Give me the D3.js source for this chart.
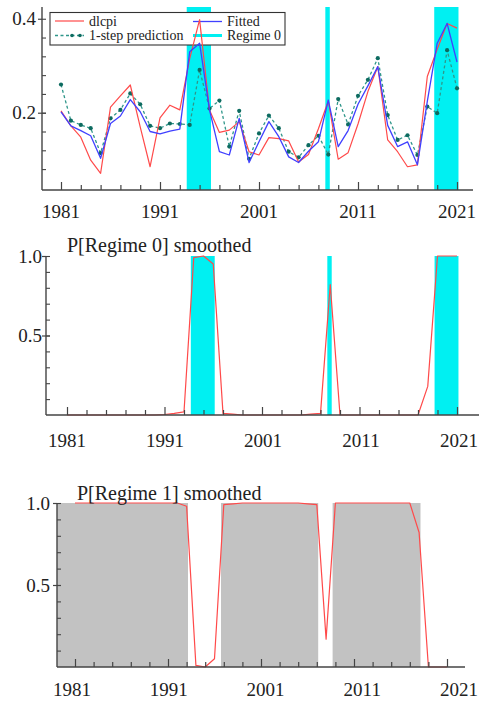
<!DOCTYPE html>
<html>
<head>
<meta charset="utf-8">
<script src="https://cdn.jsdelivr.net/npm/d3@7/dist/d3.min.js"></script>
<style>
  body { margin: 0; background: #fff; }
  svg text { font-family: 'Liberation Serif', 'DejaVu Serif', serif; fill: #222; }
</style>
</head>
<body>
<svg id="chart" width="479" height="702" font-family="'Liberation Serif', 'DejaVu Serif', serif"></svg>
<script>
'use strict'

// annual observations
const years = [1981, 1982, 1983, 1984, 1985, 1986, 1987, 1988, 1989, 1990,
  1991, 1992, 1993, 1994, 1995, 1996, 1997, 1998, 1999, 2000,
  2001, 2002, 2003, 2004, 2005, 2006, 2007, 2008, 2009, 2010,
  2011, 2012, 2013, 2014, 2015, 2016, 2017, 2018, 2019, 2020, 2021]

const dlcpi = [0.204, 0.172, 0.148, 0.099, 0.071, 0.212, 0.236, 0.259, 0.170, 0.085,
  0.189, 0.216, 0.206, 0.315, 0.398, 0.206, 0.158, 0.163, 0.181, 0.117,
  0.110, 0.147, 0.145, 0.140, 0.095, 0.111, 0.166, 0.225, 0.101, 0.115,
  0.176, 0.245, 0.298, 0.142, 0.117, 0.085, 0.089, 0.277, 0.335, 0.390, 0.380]

const fitted = [0.202, 0.172, 0.162, 0.151, 0.103, 0.177, 0.193, 0.228, 0.202, 0.160,
  0.155, 0.161, 0.165, 0.330, 0.348, 0.206, 0.117, 0.110, 0.188, 0.094,
  0.138, 0.181, 0.149, 0.106, 0.094, 0.118, 0.138, 0.227, 0.128, 0.162,
  0.218, 0.257, 0.298, 0.173, 0.128, 0.138, 0.089, 0.224, 0.348, 0.390, 0.308]

const prediction = [0.260, 0.183, 0.174, 0.167, 0.114, 0.188, 0.206, 0.241, 0.218, 0.172,
  0.167, 0.177, 0.176, 0.174, 0.291, 0.209, 0.226, 0.128, 0.204, 0.102,
  0.156, 0.194, 0.167, 0.117, 0.105, 0.131, 0.151, 0.111, 0.229, 0.175,
  0.236, 0.270, 0.316, 0.195, 0.142, 0.152, 0.110, 0.213, 0.199, 0.333, 0.252]

const pRegime0 = [0, 0, 0, 0, 0, 0, 0, 0, 0, 0,
  0.003, 0.01, 0.02, 0.99, 1.0, 0.95, 0.01, 0.005, 0, 0,
  0, 0, 0, 0, 0, 0.005, 0.01, 0.82, 0, 0,
  0, 0, 0, 0, 0, 0, 0, 0.18, 1.0, 1.0, 1.0]

const pRegime1 = [1, 1, 1, 1, 1, 1, 1, 1, 1, 1,
  1, 1, 0.98, 0.01, 0, 0.05, 0.99, 0.995, 1, 1,
  1, 1, 1, 1, 1, 0.995, 0.99, 0.17, 1, 1,
  1, 1, 1, 1, 1, 1, 1, 0.82, 0, 0, 0]

// [first, last] observation of each regime spell
const regime0Spells = [[1994, 1996], [2008, 2008], [2019, 2021]]
const regime1Spells = [[1981, 1993], [1997, 2007], [2009, 2018]]

const yearLabels = [1981, 1991, 2001, 2011, 2021]
const topTicks = [0.2, 0.4]
const probTicks = [0.5, 1.0]

const cyan = '#00f0f2'
const gray = '#c2c2c2'
const red = '#ff4a4a'
const blue = '#4040ff'
const teal = '#2f968a'
const axisColor = '#444'
const serif = "'Liberation Serif', 'DejaVu Serif', serif"

const svg = d3.select('#chart')

function panel (cfg) {
  let p = {}
  p.x = d3.scaleLinear().domain([1981, 2021]).range([cfg.x0, cfg.x1])
  p.labelX = d3.scaleLinear().domain([1981, 2021]).range(cfg.labelRange || [cfg.x0, cfg.x1])
  p.y = d3.scaleLinear().domain(cfg.yDomain).range([cfg.bottom, cfg.top])
  p.cfg = cfg
  p.g = svg.append('g')
  p.bands = p.g.append('g')
  p.marks = p.g.append('g')
  p.axes = p.g.append('g')
  return p
}

function shade (p, spells, color) {
  let leftYear = p.x.invert(p.cfg.left)
  let start = function (d) { return d[0] === years[0] ? leftYear : d[0] - 0.3 }
  p.bands.selectAll('rect')
    .data(spells)
    .join('rect')
    .attr('x', function (d) { return p.x(start(d)) })
    .attr('width', function (d) { return p.x(d[1] + 0.15) - p.x(start(d)) })
    .attr('y', p.cfg.top)
    .attr('height', p.cfg.bottom - p.cfg.top)
    .attr('fill', color)
}

function drawLine (p, values, color, width, dash) {
  let line = d3.line()
    .x(function (d, i) { return p.x(years[i]) })
    .y(function (d) { return p.y(d) })
  p.marks.append('path')
    .datum(values)
    .attr('d', line)
    .attr('fill', 'none')
    .attr('stroke', color)
    .attr('stroke-width', width)
    .attr('stroke-linejoin', 'round')
    .attr('stroke-dasharray', dash || null)
}

function axes (p, majors, minors) {
  let c = p.cfg
  let a = p.axes
  // x axis: inward ticks every 2 years, longer at labelled years
  a.append('g')
    .attr('transform', 'translate(0,' + c.bottom + ')')
    .call(d3.axisBottom(p.x)
      .tickValues(d3.range(1981, 2022, 2))
      .tickSizeInner(-5)
      .tickSizeOuter(0)
      .tickFormat(''))
    .call(function (g) { g.select('.domain').remove() })
    .selectAll('.tick line')
    .attr('y2', function (d) { return yearLabels.indexOf(d) >= 0 ? -8 : -5 })
    .attr('stroke', axisColor)
    .attr('stroke-width', 1.2)
  a.selectAll('.xlab')
    .data(yearLabels)
    .join('text')
    .attr('class', 'xlab')
    .attr('x', function (d) { return p.labelX(d) })
    .attr('y', c.bottom + c.xLabelGap)
    .attr('text-anchor', 'middle')
    .attr('font-size', 19)
    .attr('font-family', serif)
    .text(function (d) { return d })
  a.append('line')
    .attr('x1', c.left).attr('x2', c.right)
    .attr('y1', c.bottom).attr('y2', c.bottom)
    .attr('stroke', axisColor)
    .attr('stroke-width', 1.4)

  // y axis
  a.append('g')
    .attr('transform', 'translate(' + c.left + ',0)')
    .call(d3.axisLeft(p.y)
      .tickValues(majors)
      .tickSize(4)
      .tickPadding(c.yLabelGap - 4)
      .tickFormat(d3.format('.1f')))
    .attr('font-family', serif)
    .call(function (g) { g.select('.domain').remove() })
    .call(function (g) {
      g.selectAll('.tick line').attr('stroke', axisColor).attr('stroke-width', 1.2)
      g.selectAll('.tick text').attr('font-size', 19).attr('fill', '#222')
    })
  a.append('g')
    .attr('transform', 'translate(' + c.left + ',0)')
    .call(d3.axisRight(p.y)
      .tickValues(minors.concat(majors))
      .tickSize(4)
      .tickFormat(''))
    .call(function (g) { g.select('.domain').remove() })
    .selectAll('.tick line')
    .attr('stroke', axisColor)
    .attr('stroke-width', 1.1)
  a.append('line')
    .attr('x1', c.left).attr('x2', c.left)
    .attr('y1', c.bottom).attr('y2', c.top)
    .attr('stroke', axisColor)
    .attr('stroke-width', 1.4)
}

// ---- top panel: dlcpi, fitted, 1-step prediction
let topPanel = panel({ left: 42, right: 473, x0: 61, x1: 457, top: 7, bottom: 190,
  yDomain: [0.0355, 0.425], xLabelGap: 28, yLabelGap: 6 })
shade(topPanel, regime0Spells, cyan)

let legend = topPanel.marks.append('g')
legend.append('rect')
  .attr('x', 50).attr('y', 12.5)
  .attr('width', 235).attr('height', 32.5)
  .attr('fill', '#fff')
  .attr('stroke', '#333')
  .attr('stroke-width', 1.1)

drawLine(topPanel, prediction, teal, 1.3, '3,2.5')
topPanel.marks.append('g')
  .selectAll('circle')
  .data(prediction)
  .join('circle')
  .attr('cx', function (d, i) { return topPanel.x(years[i]) })
  .attr('cy', function (d) { return topPanel.y(d) })
  .attr('r', 2.1)
  .attr('fill', '#0d6b60')
drawLine(topPanel, dlcpi, red, 1.2)
drawLine(topPanel, fitted, blue, 1.3)

let legendItems = [
  { label: 'dlcpi', x: 55, y: 21, color: red, width: 1.2 },
  { label: '1-step prediction', x: 55, y: 35.5, color: teal, width: 1.3, dash: '3,2.5', dots: true },
  { label: 'Fitted', x: 193, y: 21.5, color: blue, width: 1.3 },
  { label: 'Regime 0', x: 193, y: 35.5, color: cyan, width: 3 }
]
let li = legend.selectAll('.item')
  .data(legendItems)
  .join('g')
  .attr('class', 'item')
li.append('line')
  .attr('x1', function (d) { return d.x })
  .attr('x2', function (d) { return d.x + 29 })
  .attr('y1', function (d) { return d.y })
  .attr('y2', function (d) { return d.y })
  .attr('stroke', function (d) { return d.color })
  .attr('stroke-width', function (d) { return d.width })
  .attr('stroke-dasharray', function (d) { return d.dash || null })
li.filter(function (d) { return d.dots })
  .selectAll('circle')
  .data(function (d) { return [d.x + 17, d.x + 25].map(function (cx) { return { cx: cx, cy: d.y } }) })
  .join('circle')
  .attr('cx', function (d) { return d.cx })
  .attr('cy', function (d) { return d.cy })
  .attr('r', 1.8)
  .attr('fill', '#0d6b60')
li.append('text')
  .attr('x', function (d) { return d.x + 34 })
  .attr('y', function (d) { return d.y + 4.5 })
  .attr('font-size', 14)
  .attr('font-family', serif)
  .text(function (d) { return d.label })

axes(topPanel, topTicks, d3.range(0.08, 0.39, 0.04))

// ---- middle panel: P[Regime 0] smoothed
let midPanel = panel({ left: 46, right: 479, x0: 67, x1: 457, top: 256, bottom: 415,
  yDomain: [0, 1], xLabelGap: 32, yLabelGap: 4, labelRange: [67, 459] })
shade(midPanel, regime0Spells, cyan)
drawLine(midPanel, pRegime0, red, 1.2)
axes(midPanel, probTicks, d3.range(0.1, 0.95, 0.1))
midPanel.axes.append('text')
  .attr('x', 67).attr('y', 252)
  .attr('font-size', 20)
  .attr('font-family', serif)
  .text('P[Regime 0] smoothed')

// ---- bottom panel: P[Regime 1] smoothed
let botPanel = panel({ left: 57, right: 465, x0: 75, x1: 447, top: 503, bottom: 667,
  yDomain: [0, 1], xLabelGap: 29, yLabelGap: 7, labelRange: [72, 459] })
shade(botPanel, regime1Spells, gray)
drawLine(botPanel, pRegime1, red, 1.2)
axes(botPanel, probTicks, d3.range(0.1, 0.95, 0.1))
botPanel.axes.append('text')
  .attr('x', 77).attr('y', 500)
  .attr('font-size', 20)
  .attr('font-family', serif)
  .text('P[Regime 1] smoothed')
</script>
</body>
</html>
